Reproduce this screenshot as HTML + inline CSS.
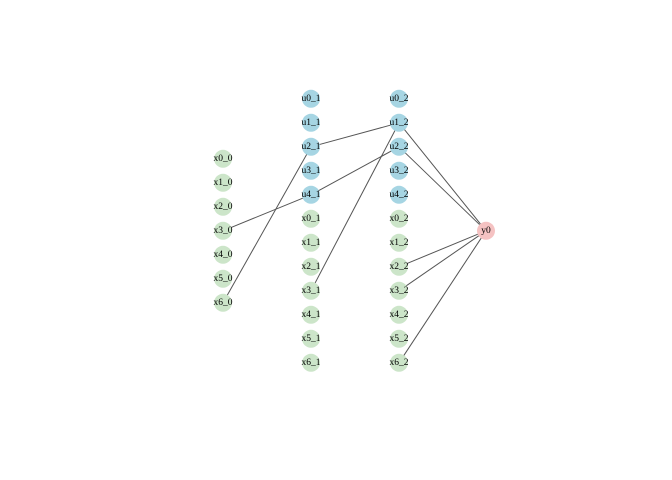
<!DOCTYPE html>
<html><head><meta charset="utf-8"><style>
html,body{margin:0;padding:0;background:#fff;}
svg{display:block;}
text{font-family:"Liberation Serif",serif;font-size:9.5px;fill:#000;text-anchor:middle;dominant-baseline:central;}
</style></head><body>
<svg width="672" height="480" viewBox="0 0 672 480" xmlns="http://www.w3.org/2000/svg">
<g transform="translate(0,0.8)">
<g stroke="#555" stroke-width="1" fill="none">
<line x1="223" y1="230" x2="311" y2="194"/>
<line x1="311" y1="194" x2="399" y2="146"/>
<line x1="223" y1="302" x2="311" y2="146"/>
<line x1="311" y1="146" x2="399" y2="122"/>
<line x1="311" y1="290" x2="399" y2="122"/>
<line x1="399" y1="122" x2="486" y2="230"/>
<line x1="399" y1="146" x2="486" y2="230"/>
<line x1="399" y1="266" x2="486" y2="230"/>
<line x1="399" y1="290" x2="486" y2="230"/>
<line x1="399" y1="362" x2="486" y2="230"/>
</g>
<g>
<circle cx="223" cy="158" r="9" fill="#cce5c9"/><text x="223" y="158">x0_0</text>
<circle cx="223" cy="182" r="9" fill="#cce5c9"/><text x="223" y="182">x1_0</text>
<circle cx="223" cy="206" r="9" fill="#cce5c9"/><text x="223" y="206">x2_0</text>
<circle cx="223" cy="230" r="9" fill="#cce5c9"/><text x="223" y="230">x3_0</text>
<circle cx="223" cy="254" r="9" fill="#cce5c9"/><text x="223" y="254">x4_0</text>
<circle cx="223" cy="278" r="9" fill="#cce5c9"/><text x="223" y="278">x5_0</text>
<circle cx="223" cy="302" r="9" fill="#cce5c9"/><text x="223" y="302">x6_0</text>
<circle cx="311" cy="98" r="9" fill="#a6d5e3"/><text x="311" y="98">u0_1</text>
<circle cx="311" cy="122" r="9" fill="#a6d5e3"/><text x="311" y="122">u1_1</text>
<circle cx="311" cy="146" r="9" fill="#a6d5e3"/><text x="311" y="146">u2_1</text>
<circle cx="311" cy="170" r="9" fill="#a6d5e3"/><text x="311" y="170">u3_1</text>
<circle cx="311" cy="194" r="9" fill="#a6d5e3"/><text x="311" y="194">u4_1</text>
<circle cx="311" cy="218" r="9" fill="#cce5c9"/><text x="311" y="218">x0_1</text>
<circle cx="311" cy="242" r="9" fill="#cce5c9"/><text x="311" y="242">x1_1</text>
<circle cx="311" cy="266" r="9" fill="#cce5c9"/><text x="311" y="266">x2_1</text>
<circle cx="311" cy="290" r="9" fill="#cce5c9"/><text x="311" y="290">x3_1</text>
<circle cx="311" cy="314" r="9" fill="#cce5c9"/><text x="311" y="314">x4_1</text>
<circle cx="311" cy="338" r="9" fill="#cce5c9"/><text x="311" y="338">x5_1</text>
<circle cx="311" cy="362" r="9" fill="#cce5c9"/><text x="311" y="362">x6_1</text>
<circle cx="399" cy="98" r="9" fill="#a6d5e3"/><text x="399" y="98">u0_2</text>
<circle cx="399" cy="122" r="9" fill="#a6d5e3"/><text x="399" y="122">u1_2</text>
<circle cx="399" cy="146" r="9" fill="#a6d5e3"/><text x="399" y="146">u2_2</text>
<circle cx="399" cy="170" r="9" fill="#a6d5e3"/><text x="399" y="170">u3_2</text>
<circle cx="399" cy="194" r="9" fill="#a6d5e3"/><text x="399" y="194">u4_2</text>
<circle cx="399" cy="218" r="9" fill="#cce5c9"/><text x="399" y="218">x0_2</text>
<circle cx="399" cy="242" r="9" fill="#cce5c9"/><text x="399" y="242">x1_2</text>
<circle cx="399" cy="266" r="9" fill="#cce5c9"/><text x="399" y="266">x2_2</text>
<circle cx="399" cy="290" r="9" fill="#cce5c9"/><text x="399" y="290">x3_2</text>
<circle cx="399" cy="314" r="9" fill="#cce5c9"/><text x="399" y="314">x4_2</text>
<circle cx="399" cy="338" r="9" fill="#cce5c9"/><text x="399" y="338">x5_2</text>
<circle cx="399" cy="362" r="9" fill="#cce5c9"/><text x="399" y="362">x6_2</text>
<circle cx="486" cy="230" r="9" fill="#f5c2c2"/><text x="486" y="230">y0</text>
</g>
</g>
</svg>
</body></html>
